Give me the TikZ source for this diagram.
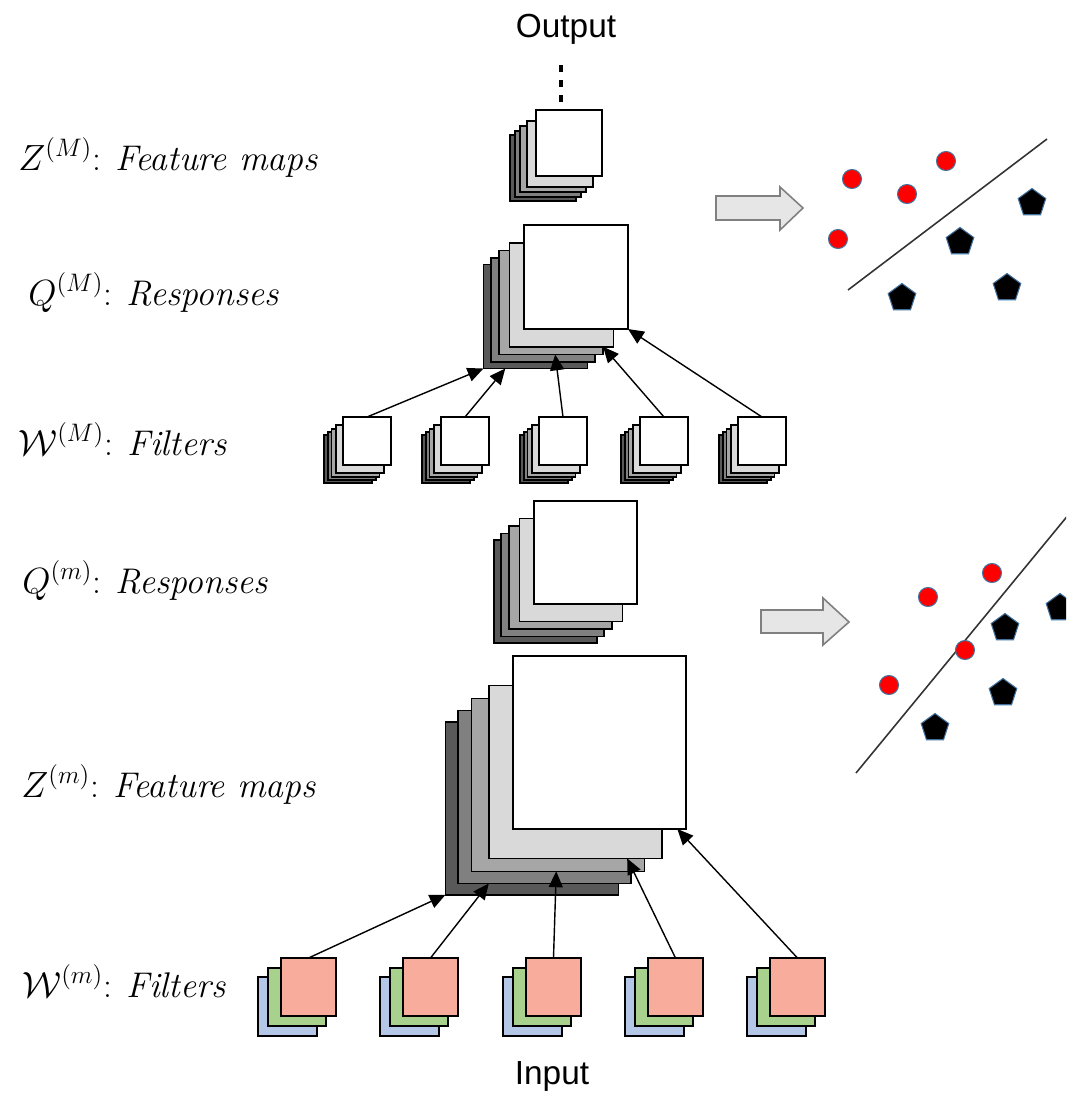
\documentclass[tikz,border=0pt]{standalone}
\usepackage{fontspec}
\newfontfamily\labelsans{Liberation Sans}
\usetikzlibrary{positioning,arrows.meta,shapes.geometric,calc}

\definecolor{gray1}{HTML}{D9D9D9}
\definecolor{gray2}{HTML}{A6A6A6}
\definecolor{gray3}{HTML}{808080}
\definecolor{gray4}{HTML}{595959}
\definecolor{filtred}{HTML}{F8AD9C}
\definecolor{filtgreen}{HTML}{A9D18E}
\definecolor{filtblue}{HTML}{B4C7E7}
\definecolor{dotedge}{HTML}{41719C}
\definecolor{arrowfill}{HTML}{E6E6E6}

\tikzset{
  sheet/.style={draw, rectangle, line width=1pt, inner sep=0pt, outer sep=0pt, anchor=north west},
  feed/.style={-{Triangle[length=9pt,width=8pt]}, line width=0.8pt},
  lbl/.style={inner sep=0pt, anchor=base west, font=\fontsize{20.3}{24}\selectfont},
  io/.style={inner sep=0pt, anchor=base, font=\labelsans\fontsize{19}{22}\selectfont},
  redpt/.style={circle, fill=red, draw=dotedge, line width=0.6pt, minimum size=0.38cm, inner sep=0pt},
  blackpt/.style={regular polygon, regular polygon sides=5, fill=black, draw=dotedge, line width=0.6pt, minimum size=0.58cm, inner sep=0pt},
  sepline/.style={line width=0.9pt, draw=black!80},
  bigarrow/.style={draw=gray3, fill=arrowfill, line width=0.9pt}
}

% stack of five sheets: name, x, y (top left of front sheet), size
\newcommand{\grayStack}[4]{%
  \foreach \i/\dx/\dy/\col in {4/0.39/0.38/gray4,3/0.32/0.315/gray3,2/0.24/0.245/gray2,1/0.14/0.17/gray1,0/0/0/white}
    \node[sheet, fill=\col, minimum size=#4*0.02cm] (#1-\i) at (#2-\dx*#4, #3+\dy*#4) {};
}
% colour filter: name, x, y (top left of red sheet)
\newcommand{\rgbStack}[3]{%
  \node[sheet, fill=filtblue, minimum size=1.18cm] (#1-b) at (#2-23, #3+19) {};
  \node[sheet, fill=filtgreen, minimum size=1.16cm] (#1-g) at (#2-13, #3+10) {};
  \node[sheet, fill=filtred, minimum width=1.1cm, minimum height=1.16cm] (#1) at (#2, #3) {};
}

\begin{document}
\begin{tikzpicture}[x=0.02cm,y=-0.02cm]
\useasboundingbox (0,0) rectangle (1066,1093);
\clip (0,0) rectangle (1066,1093);

% texts
\node[io] (out) at (566,37) {Output};
\node[io] (in) at (552,1084) {Input};
\node[lbl] (labZM) at (18,170) {$Z^{(M)}$: \textit{Feature maps}};
\node[lbl] (labQM) at (28,305) {$Q^{(M)}$: \textit{Responses}};
\node[lbl] (labWM) at (18,455) {$\mathcal{W}^{(M)}$: \textit{Filters}};
\node[lbl] (labQm) at (22,593) {$Q^{(m)}$: \textit{Responses}};
\node[lbl] (labZm) at (21,797) {$Z^{(m)}$: \textit{Feature maps}};
\node[lbl] (labWm) at (22,997) {$\mathcal{W}^{(m)}$: \textit{Filters}};

% stacks
\grayStack{zM}{536}{110}{66}
\grayStack{qM}{524}{225}{104}
\grayStack{qm}{534}{501}{103}
\grayStack{zm}{513}{656}{173}
\foreach \n/\x in {1/343,2/441,3/539,4/640,5/738} {\grayStack{wM\n}{\x}{417}{48}}
\foreach \n/\x in {1/281,2/403,3/526,4/648,5/770} {\rgbStack{wm\n}{\x}{958}}

% dotted link to the output
\coordinate (dotsTop) at (561,65);
\draw[line width=1.8pt, dash pattern=on 4.2pt off 4.3pt] (dotsTop) -- (dotsTop |- zM-0.north) [shorten >=4.5pt];

% filters to responses
\draw[feed] (wM1-0.north) -- (qM-4.south west);
\draw[feed] (wM2-0.north) -- ($(qM-4.south west)!0.21!(qM-4.south east)$);
\draw[feed] (wM3-0.north) -- ($(qM-2.south west)!0.54!(qM-2.south east)$);
\draw[feed] (wM4-0.north) -- ($(qM-1.south west)!0.90!(qM-1.south east)$);
\draw[feed] (wM5-0.north) -- (qM-0.south east);

\draw[feed] (wm1.north) -- (zm-4.south west);
\draw[feed] (wm2.north) -- ($(zm-3.south west)!0.18!(zm-3.south east)$);
\draw[feed] (wm3.north) -- ($(zm-2.south west)!0.49!(zm-2.south east)$);
\draw[feed] (wm4.north) -- ($(zm-1.south west)!0.80!(zm-1.south east)$);
\draw[feed] (wm5.north) -- ($(zm-0.south west)!0.95!(zm-0.south east)$);

% big arrows
\draw[bigarrow] (716,196) -- ++(64,0) -- ++(0,-9) -- ++(23,21) -- ++(-23,22) -- ++(0,-10) -- ++(-64,0) -- cycle;
\draw[bigarrow] (761,610) -- ++(62,0) -- ++(0,-12) -- ++(26,24) -- ++(-26,23) -- ++(0,-12) -- ++(-62,0) -- cycle;

% upper classes
\draw[sepline] (848,290) -- (1047,139);
\node[redpt] (rA1) at (852,179) {};
\node[redpt] (rA2) at (946,161) {};
\node[redpt] (rA3) at (907,194) {};
\node[redpt] (rA4) at (838,239) {};
\node[blackpt] (pA1) at (1032,203) {};
\node[blackpt] (pA2) at (960,242) {};
\node[blackpt] (pA3) at (902,298) {};
\node[blackpt] (pA4) at (1007,288) {};

% lower classes
\draw[sepline] (856,773) -- (1074,508);
\node[redpt] (rB1) at (992,573) {};
\node[redpt] (rB2) at (928,597) {};
\node[redpt] (rB3) at (965,650) {};
\node[redpt] (rB4) at (889,685) {};
\node[blackpt] (pB1) at (1060,608) {};
\node[blackpt] (pB2) at (1005,628) {};
\node[blackpt] (pB3) at (1003,693) {};
\node[blackpt] (pB4) at (935,728) {};
\end{tikzpicture}
\end{document}
